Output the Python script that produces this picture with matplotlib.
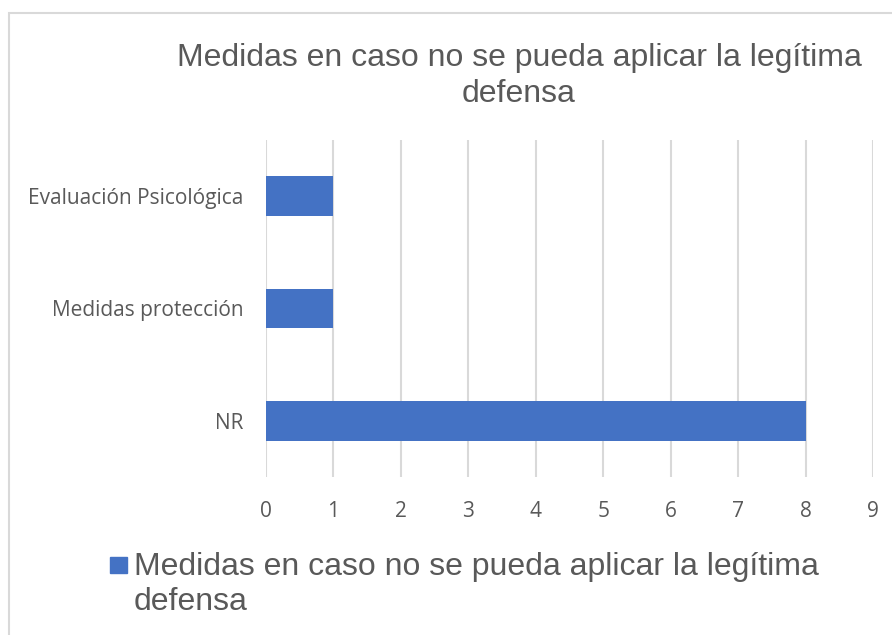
import matplotlib.pyplot as plt
from matplotlib.patches import Rectangle

categories = ["Evaluación Psicológica", "Medidas protección", "NR"]
values = [1, 1, 8]
xticks = [0, 1, 2, 3, 4, 5, 6, 7, 8, 9]
title = "Medidas en caso no se pueda aplicar la legítima\ndefensa"
series_name = "Medidas en caso no se pueda aplicar la legítima\ndefensa"

W, H = 892, 635
fig = plt.figure(figsize=(W / 100, H / 100), dpi=100)

# chart border (cropped on the right/bottom)
fig.patches.append(Rectangle((9 / W, -0.1), 1.2, 1 - 13 / H + 0.1,
                             transform=fig.transFigure, fill=False,
                             edgecolor="#D9D9D9", linewidth=1.5))

ax = fig.add_axes([266 / W, 1 - 477 / H, (873 - 266) / W, (477 - 140) / H])
ypos = list(range(len(categories)))
ax.barh(ypos, values, height=0.355, color="#4472C4", zorder=3)
ax.set_ylim(len(categories) - 0.5, -0.5)
ax.set_xlim(0, 9)
ax.set_xticks(xticks)
ax.set_yticks(ypos)
ax.set_yticklabels(categories)
ax.grid(axis="x", color="#D9D9D9", linewidth=1.5, zorder=0)
for s in ax.spines.values():
    s.set_visible(False)
ax.tick_params(length=0, labelsize=15, labelcolor="#595959")
ax.tick_params(axis="x", pad=17)
ax.tick_params(axis="y", pad=16)
for lab in ax.get_xticklabels() + ax.get_yticklabels():
    lab.set_family("Open Sans")

fig.text(519 / W, 1 - 76 / H, title, ha="center", va="center",
         fontsize=23, color="#595959", family="Liberation Sans",
         linespacing=1.25)

# legend drawn by hand so the key sits next to the first line
fig.patches.append(Rectangle((110 / W, 1 - 573 / H), 17 / W, 16 / H,
                             transform=fig.transFigure, color="#4472C4"))
fig.text(134 / W, 1 - 552 / H, series_name, ha="left", va="top",
         fontsize=23, color="#595959", family="Liberation Sans",
         linespacing=1.22)

fig.savefig("out.png", dpi=100)
